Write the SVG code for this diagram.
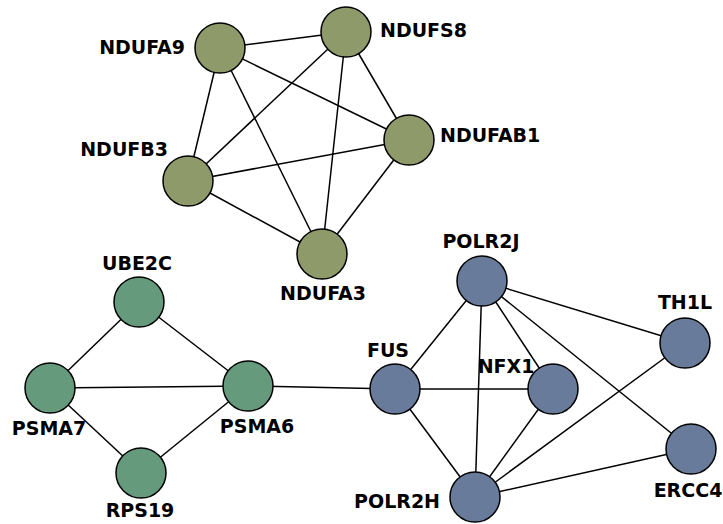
<svg xmlns="http://www.w3.org/2000/svg" width="723" height="524" viewBox="0 0 723 524">
<style>
.e{stroke:#000;stroke-width:1.5;fill:none}
.n{stroke:#000;stroke-width:1.5}
.a{fill:#8f9a6a}
.g{fill:#669a7c}
.b{fill:#687b9b}
text{font-family:"DejaVu Sans",sans-serif;font-weight:bold;font-size:19px;fill:#000}
</style>
<rect width="723" height="524" fill="#fff"/>
<g id="edges">
<line class="e" x1="220" y1="48" x2="346" y2="32"/>
<line class="e" x1="220" y1="48" x2="409" y2="140"/>
<line class="e" x1="220" y1="48" x2="188" y2="181"/>
<line class="e" x1="220" y1="48" x2="322" y2="254"/>
<line class="e" x1="346" y1="32" x2="188" y2="181"/>
<line class="e" x1="346" y1="32" x2="322" y2="254"/>
<line class="e" x1="346" y1="32" x2="409" y2="140"/>
<line class="e" x1="188" y1="181" x2="409" y2="140"/>
<line class="e" x1="188" y1="181" x2="322" y2="254"/>
<line class="e" x1="409" y1="140" x2="322" y2="254"/>
<line class="e" x1="139" y1="302" x2="50" y2="388"/>
<line class="e" x1="139" y1="302" x2="248" y2="386"/>
<line class="e" x1="50" y1="388" x2="248" y2="386"/>
<line class="e" x1="50" y1="388" x2="141" y2="473"/>
<line class="e" x1="141" y1="473" x2="248" y2="386"/>
<line class="e" x1="248" y1="386" x2="395" y2="389"/>
<line class="e" x1="482" y1="281" x2="395" y2="389"/>
<line class="e" x1="482" y1="281" x2="475" y2="497"/>
<line class="e" x1="482" y1="281" x2="553" y2="389"/>
<line class="e" x1="482" y1="281" x2="685" y2="343"/>
<line class="e" x1="482" y1="281" x2="691" y2="449"/>
<line class="e" x1="395" y1="389" x2="553" y2="389"/>
<line class="e" x1="395" y1="389" x2="475" y2="497"/>
<line class="e" x1="553" y1="389" x2="475" y2="497"/>
<line class="e" x1="685" y1="343" x2="475" y2="497"/>
<line class="e" x1="691" y1="449" x2="475" y2="497"/>
</g>
<g id="NDUFA9"><circle class="n a" cx="220" cy="48" r="25"/><text x="185" y="54" text-anchor="end">NDUFA9</text></g>
<g id="NDUFS8"><circle class="n a" cx="346" cy="32" r="25"/><text x="380" y="37">NDUFS8</text></g>
<g id="NDUFAB1"><circle class="n a" cx="409" cy="140" r="25"/><text x="440" y="142">NDUFAB1</text></g>
<g id="NDUFB3"><circle class="n a" cx="188" cy="181" r="25"/><text x="168" y="156" text-anchor="end">NDUFB3</text></g>
<g id="NDUFA3"><circle class="n a" cx="322" cy="254" r="25"/><text x="323" y="300" text-anchor="middle">NDUFA3</text></g>
<g id="UBE2C"><circle class="n g" cx="139" cy="302" r="25"/><text x="137" y="270" text-anchor="middle">UBE2C</text></g>
<g id="PSMA7"><circle class="n g" cx="50" cy="388" r="25"/><text x="49" y="435" text-anchor="middle">PSMA7</text></g>
<g id="PSMA6"><circle class="n g" cx="248" cy="386" r="25"/><text x="257" y="433" text-anchor="middle">PSMA6</text></g>
<g id="RPS19"><circle class="n g" cx="141" cy="473" r="25"/><text x="140" y="517" text-anchor="middle">RPS19</text></g>
<g id="POLR2J"><circle class="n b" cx="482" cy="281" r="25"/><text x="481" y="248" text-anchor="middle">POLR2J</text></g>
<g id="TH1L"><circle class="n b" cx="685" cy="343" r="25"/><text x="685" y="309" text-anchor="middle">TH1L</text></g>
<g id="FUS"><circle class="n b" cx="395" cy="389" r="25"/><text x="388" y="357" text-anchor="middle">FUS</text></g>
<g id="NFX1"><circle class="n b" cx="553" cy="389" r="25"/><text x="506" y="373" text-anchor="middle">NFX1</text></g>
<g id="ERCC4"><circle class="n b" cx="691" cy="449" r="25"/><text x="688" y="497" text-anchor="middle">ERCC4</text></g>
<g id="POLR2H"><circle class="n b" cx="475" cy="497" r="25"/><text x="440" y="508" text-anchor="end">POLR2H</text></g>
</svg>
